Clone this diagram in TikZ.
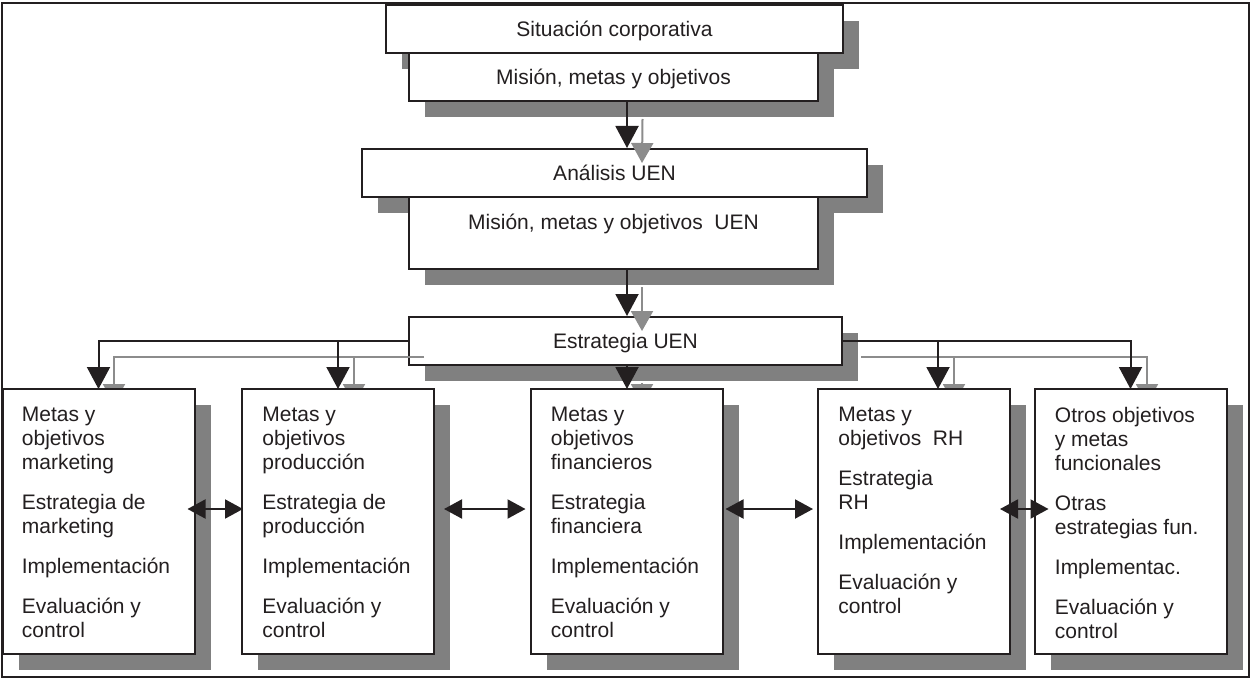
\documentclass[tikz,border=0pt]{standalone}
\usepackage{fontspec}
\setmainfont{Liberation Sans}
\usetikzlibrary{arrows.meta,shadows,calc}

\definecolor{linecol}{HTML}{231F20}
\definecolor{shadecol}{HTML}{808080}
\definecolor{greyline}{HTML}{8C8C8C}

\begin{document}
\begin{tikzpicture}[x=0.5pt, y=-0.5pt,
    every node/.style={font=\fontsize{10.5}{12}\selectfont, text=linecol},
    box/.style={draw=linecol, line width=1pt, fill=white, inner sep=0pt,
      general shadow={fill=shadecol, shadow xshift=8pt, shadow yshift=-8pt}},
    topbox/.style={box, minimum height=24pt, text height=7.5pt, text depth=0pt},
    funcbox/.style={box, minimum width=96pt, minimum height=132.5pt},
    functext/.style={anchor=north west, align=left, inner sep=0pt},
    blk/.style={draw=linecol, line width=1pt, -{Triangle[length=11pt,width=11.5pt]}},
    gry/.style={draw=greyline, line width=1pt, -{Triangle[length=10pt,width=11pt]}},
    link/.style={draw=linecol, line width=1pt, {Triangle[length=9pt,width=9.5pt]}-{Triangle[length=9pt,width=9.5pt]}}]
  \useasboundingbox (0,0) rectangle (1251,679);
  \draw[draw=linecol, line width=1pt] (2,3) rectangle (1249,677);

  % corporate level
  \node[topbox, minimum width=228.5pt] (sit) at (614.5,29) {Situación corporativa};
  \node[topbox, minimum width=204.5pt] (mis) at (613.5,77) {Misión, metas y objetivos};
  \node[topbox, minimum width=252.5pt] (ana) at (614.5,173) {Análisis UEN};
  \node[box, minimum width=204.5pt, minimum height=36pt] (misuen) at (613.5,233) {};
  \node[anchor=base] (misuentxt) at ($(misuen.north)+(0,33)$) {Misión, metas y objetivos~~UEN};
  \node[topbox, minimum width=216.5pt] (est) at (625.5,341) {Estrategia UEN};

  % connectors (grey copies first)
  \draw[gry] ($(mis.south)+(29,17)$) -- ($(ana.north)+(27.5,15)$);
  \draw[blk] ($(mis.south)+(13.5,0)$) -- ($(ana.north)+(12.5,0)$);
  \draw[gry] ($(misuen.south)+(28.5,17)$) -- ($(est.north)+(16.5,15)$);
  \draw[blk] ($(misuen.south)+(13.5,0)$) -- ($(est.north)+(1.5,0)$);

  \coordinate (c3) at (627,389);
  \draw[gry] ($(est.south)+(16.5,17)$) -- ($(c3)+(15,15)$);
  \draw[blk] ($(est.south)+(1.5,0)$) -- (c3);

  \coordinate (c4) at (938,389);
  \draw[gry] ($(est.west)+(16,16)$) -| (114,404);
  \draw[gry] ($(338,341)+(16,16)$) -- (354,404);
  \draw[gry] ($(est.east)+(18,16)$) -| (1147,404);
  \draw[gry] ($(c4 |- est.east)+(16,16)$) -- ($(c4)+(16,15)$);
  \draw[blk] (est.west) -| (98.5,389);
  \draw[blk] (338,341) -- (338,389);
  \draw[blk] (est.east) -| (1130.5,389);
  \draw[blk] (c4 |- est.east) -- (c4);

  % functional level
  \node[funcbox] (m1) at (98.5,521.5) {};
  \node[funcbox] (m2) at (338,521.5) {};
  \node[funcbox] (m3) at (626.5,521.5) {};
  \node[funcbox] (m4) at (914,521.5) {};
  \node[funcbox] (m5) at (1130.5,521.5) {};

  \node[functext] (t1) at ($(m1.north west)+(20,19)$) {Metas y\\objetivos\\marketing\\[8pt]Estrategia de\\marketing\\[8pt]Implementación\\[8pt]Evaluación y\\control};
  \node[functext] (t2) at ($(m2.north west)+(21,19)$) {Metas y\\objetivos\\producción\\[8pt]Estrategia de\\producción\\[8pt]Implementación\\[8pt]Evaluación y\\control};
  \node[functext] (t3) at ($(m3.north west)+(21,19)$) {Metas y\\objetivos\\financieros\\[8pt]Estrategia\\financiera\\[8pt]Implementación\\[8pt]Evaluación y\\control};
  \node[functext] (t4) at ($(m4.north west)+(21,19)$) {Metas y\\objetivos~~RH\\[8pt]Estrategia\\RH\\[8pt]Implementación\\[8pt]Evaluación y\\control};
  \node[functext] (t5) at ($(m5.north west)+(21,19)$) {Otros objetivos\\y metas\\funcionales\\[8pt]Otras\\estrategias fun.\\[8pt]Implementac.\\[8pt]Evaluación y\\control};

  \draw[link] ($(m1.east)+(-8,-12.5)$) -- ($(m2.west)+(2,-12.5)$);
  \draw[link] ($(m2.east)+(9,-12.5)$) -- ($(m3.west)+(-4,-12.5)$);
  \draw[link] ($(m3.east)+(2,-12.5)$) -- ($(m4.west)+(-4,-12.5)$);
  \draw[link] ($(m4.east)+(-11,-12.5)$) -- ($(m5.west)+(15,-12.5)$);
\end{tikzpicture}
\end{document}
